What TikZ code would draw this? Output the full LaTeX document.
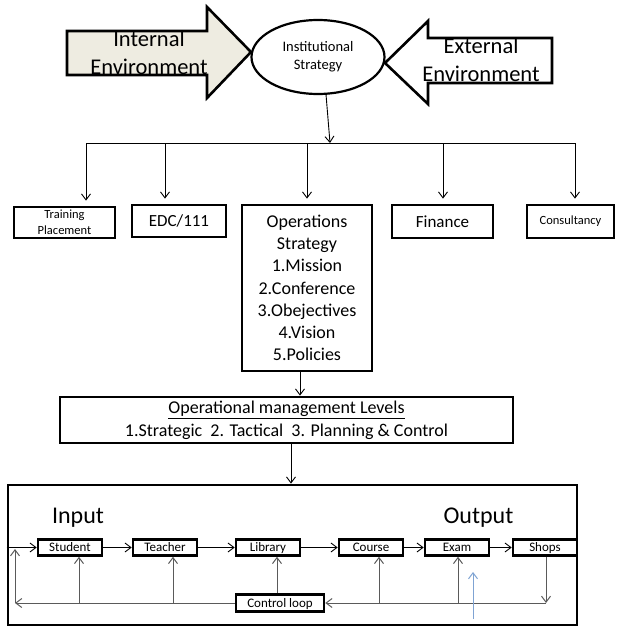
\documentclass[tikz,border=0pt]{standalone}
\usepackage{fontspec}
\setmainfont{Carlito}
\usepackage{tikz}
\usetikzlibrary{arrows.meta, shapes.geometric}

\definecolor{innerfill}{HTML}{EEECE1}
\definecolor{loopgray}{HTML}{5A5A5A}
\definecolor{pointerblue}{HTML}{7FA3D3}

\begin{document}
\begin{tikzpicture}[x=1pt, y=-1pt,
    >={Straight Barb[length=6pt,width=9pt]},
    box/.style={draw, line width=2.8pt, inner sep=0pt, align=center},
    smallbox/.style={draw, line width=2.6pt, inner sep=0pt, minimum width=64pt,
        minimum height=16pt, text height=9pt, text depth=1pt,
        font=\fontsize{13}{15}\selectfont},
    link/.style={->, line width=0.9pt},
    feed/.style={->, line width=1pt, loopgray}]
    \useasboundingbox (0,0) rectangle (620,626);

    % Define levels
    \pgfmathsetmacro{\branchy}{143}  % branch line
    \pgfmathsetmacro{\loopy}{603}    % control loop line
    \pgfmathsetmacro{\backx}{15}     % left return line

    % Draw environment arrows
    \draw[line width=2.6pt, fill=innerfill] (67,31) -- (207,31) -- (207,7) -- (251,52)
        -- (207,98) -- (207,75) -- (67,75) -- cycle;
    \draw[line width=2.6pt, fill=white] (552,38) -- (428,38) -- (428,21) -- (385,63)
        -- (428,104) -- (428,83) -- (552,83) -- cycle;
    \node[align=center, font=\fontsize{22.5}{28}\selectfont] (internal) at (149,53) {Internal\\Environment};
    \node[align=center, font=\fontsize{22.5}{28}\selectfont] (external) at (481,60) {External\\Environment};

    % Institutional strategy
    \node[draw, ellipse, line width=2.2pt, inner sep=0pt, minimum width=133pt, minimum height=74pt,
        align=center, font=\fontsize{14.5}{18}\selectfont] (inst) at (318,57) {Institutional\\Strategy};

    % Branch to the departments
    \coordinate (branch) at (330,\branchy);
    \draw[link] (inst.282) -- (branch);
    \draw[line width=0.9pt] (86,\branchy) -- (575,\branchy);

    % Departments
    \node[box, minimum width=101pt, minimum height=31pt, font=\fontsize{12.5}{16}\selectfont] (train) at (64.5,222.5) {Training\\Placement};
    \node[box, minimum width=94pt, minimum height=32pt, font=\fontsize{17}{20}\selectfont] (edc) at (179,221) {EDC/111};
    \node[box, minimum width=130pt, minimum height=166pt, font=\fontsize{18}{22.2}\selectfont] (ops) at (307,288)
        {Operations\\Strategy\\1.Mission\\2.Conference\\3.Obejectives\\4.Vision\\5.Policies};
    \node[box, minimum width=101pt, minimum height=33pt, font=\fontsize{17}{20}\selectfont] (fin) at (442.5,221.5) {Finance};
    \node[box, minimum width=87pt, minimum height=33pt, text height=9pt, text depth=2.5pt,
        font=\fontsize{12.5}{15}\selectfont] (cons) at (570.5,221.5) {Consultancy};

    \foreach \x/\n in {86/train, 165/edc, 307/ops, 443/fin, 575/cons}
        \draw[link, shorten >=5pt] (\x,\branchy) -- (\x,\branchy |- \n.north);

    % Operational management levels
    \node[box, minimum width=453pt, minimum height=46pt, font=\fontsize{18}{23}\selectfont] (levels) at (286.5,420)
        {\underline{Operational management Levels}\\1.Strategic~ 2. Tactical~ 3. Planning \& Control};
    \draw[link] (300,0 |- ops.south) -- (300,0 |- levels.north);

    % Process box
    \node[box, minimum width=569pt, minimum height=140pt] (process) at (292.5,555) {};
    \draw[link] (291,0 |- levels.south) -- (291,0 |- process.north);

    \node[anchor=base, font=\fontsize{24}{28}\selectfont] (input) at (78,523) {Input};
    \node[anchor=base, font=\fontsize{24}{28}\selectfont] (output) at (478.5,523) {Output};

    \node[smallbox] (student) at (70,547.5) {Student};
    \node[smallbox] (teacher) at (165,547.5) {Teacher};
    \node[smallbox] (library) at (268,547.5) {Library};
    \node[smallbox] (course) at (371,547.5) {Course};
    \node[smallbox] (exam) at (457,547.5) {Exam};
    \node[smallbox] (shops) at (545,547.5) {Shops};
    \node[smallbox, minimum width=88pt, minimum height=17pt] (ctrl) at (280,\loopy) {Control loop};

    % Forward chain
    \draw[link] (process.west |- student.west) -- (student);
    \foreach \a/\b in {student/teacher, teacher/library, library/course, course/exam, exam/shops}
        \draw[link] (\a) -- (\b);

    % Control loop
    \coordinate (loopR) at (546,\loopy);
    \coordinate (loopL) at (\backx,\loopy);
    \draw[feed] (546,0 |- shops.south) -- (loopR);
    \draw[feed] (loopR) -- (ctrl.east);
    \draw[feed] (ctrl.west) -- (loopL);
    \draw[feed, shorten >=1.5pt] (loopL) -- (loopL |- student.west);
    \foreach \x/\n in {79/student, 173/teacher, 379/course, 458/exam}
        \draw[feed] (\x,\loopy) -- (\x,\loopy |- \n.south);
    \draw[feed] (277,0 |- ctrl.north) -- (277,0 |- library.south);

    % Blue pointer
    \coordinate (blueA) at (473,619);
    \coordinate (blueB) at (473,572);
    \draw[->, pointerblue, line width=1pt] (blueA) -- (blueB);
\end{tikzpicture}
\end{document}
